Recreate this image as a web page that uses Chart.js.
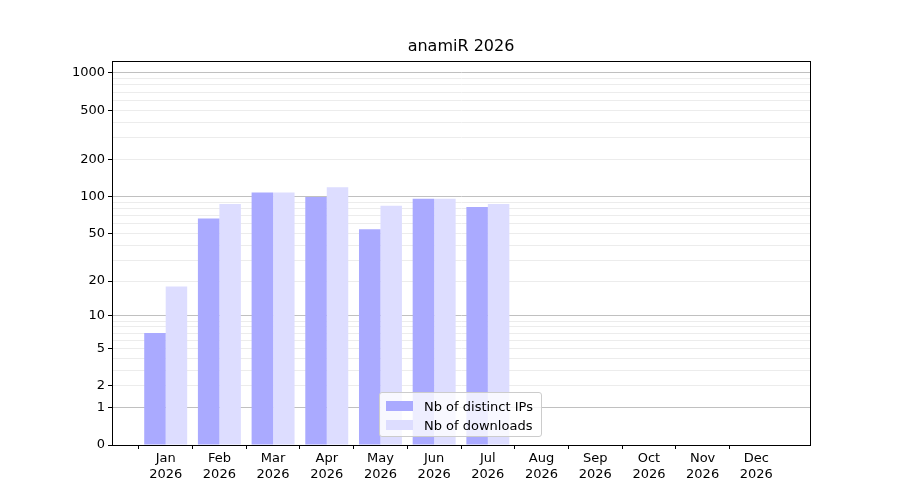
<!DOCTYPE html>
<html><head><meta charset="utf-8">
<script src="https://cdn.jsdelivr.net/npm/chart.js@4"></script>
<style>
body{margin:0;background:#fff;font-family:"DejaVu Sans",sans-serif;}
#wrap{position:relative;width:900px;height:500px;}
#title{position:absolute;left:112px;width:698px;top:36px;text-align:center;font-size:16px;color:#000;}
#legend{position:absolute;left:379px;top:392px;width:163px;height:45px;background:rgba(255,255,255,0.8);border:1px solid #ccc;border-radius:3px;font-size:13px;box-sizing:border-box;padding:4px 6px;}
.row{display:flex;align-items:center;height:18px;margin-bottom:1px;}
.sw{width:27px;height:10px;margin-right:11px;}
</style></head>
<body><div id="wrap"><canvas id="c" width="900" height="500"></canvas>
<div id="title">anamiR 2026</div>
<div id="legend"><div class="row"><div class="sw" style="background:#aaaaff"></div>Nb of distinct IPs</div>
<div class="row"><div class="sw" style="background:#ddddff"></div>Nb of downloads</div></div></div>
<script>
const months=["Jan","Feb","Mar","Apr","May","Jun","Jul","Aug","Sep","Oct","Nov","Dec"];
const year="2026";
const distinctIPs=[7,66,108,99,54,96,82,null,null,null,null,null];
const downloads=[18,87,108,119,84,96,87,null,null,null,null,null];
const tickLabels=[0,1,2,5,10,20,50,100,200,500,1000];
const t=v=>v==null?null:Math.log10(1+v);
const minorVals=[];
for(const d of [1,10,100]){for(let k=1;k<10;k++)minorVals.push(k*d);}
minorVals.push(1000);
const allVals=[0,...minorVals];
const labels=["",...months.map(m=>[m,year]),""];
const pad=a=>[null,...a,null];
const major=new Set([1,10,100,1000]);
const frame={id:'frame',afterDraw(c){const a=c.chartArea,x=c.ctx;x.save();x.strokeStyle='#000';x.lineWidth=1;x.strokeRect(a.left+0.5,a.top+0.5,a.right-a.left,a.bottom-a.top);x.restore();}};
new Chart(document.getElementById('c'),{type:'bar',
data:{labels,datasets:[
{label:'Nb of distinct IPs',data:pad(distinctIPs.map(t)),backgroundColor:'#aaaaff'},
{label:'Nb of downloads',data:pad(downloads.map(t)),backgroundColor:'#ddddff'}]},
options:{responsive:false,animation:false,layout:{padding:{top:61,right:90,left:0,bottom:0}},
plugins:{legend:{display:false},title:{display:false},tooltip:{enabled:false}},
datasets:{bar:{categoryPercentage:0.8,barPercentage:1}},
scales:{
x:{offset:false,grid:{drawOnChartArea:false,tickLength:4,color:'#000',tickColor:c=>(c.index==0||c.index==13)?'transparent':'#000'},border:{color:'#000'},
ticks:{color:'#000',font:{family:'DejaVu Sans',size:13},maxRotation:0,autoSkip:false,padding:2},
afterFit(s){s.height=55;}},
y:{min:0,max:3.097,border:{color:'#000'},
afterBuildTicks(s){s.ticks=allVals.map(v=>({value:t(v)}));},
afterFit(s){s.width=112;},
grid:{color:c=>{const v=allVals[c.index];if(v===0)return 'transparent';return major.has(v)?'#c0c0c0':'#ececec';},
tickColor:c=>tickLabels.includes(allVals[c.index])?'#000':'transparent',tickLength:4},
ticks:{color:'#000',font:{family:'DejaVu Sans',size:13},autoSkip:false,padding:3,
callback:(val,i)=>tickLabels.includes(allVals[i])?String(allVals[i]):''}}}},
plugins:[frame]});
</script></body></html>
